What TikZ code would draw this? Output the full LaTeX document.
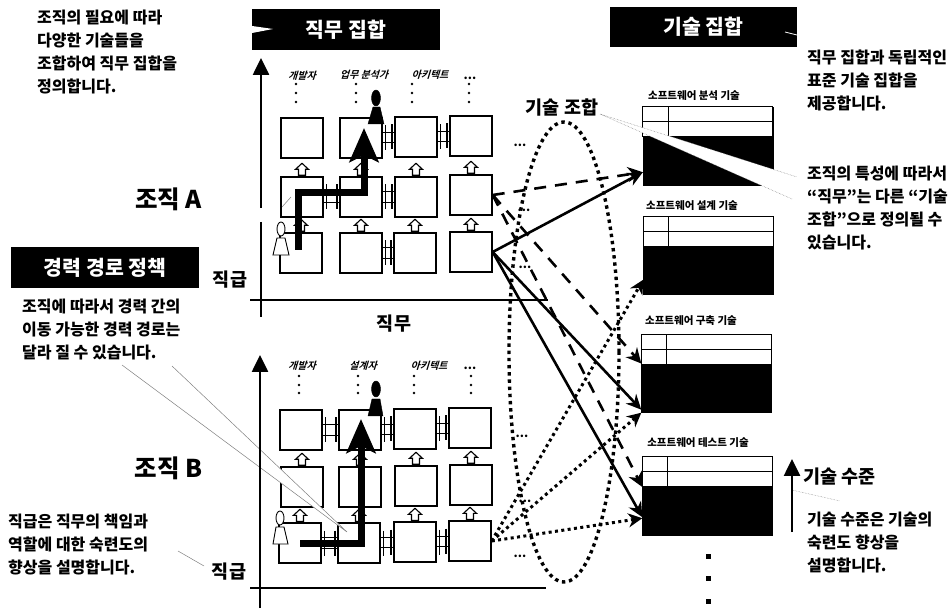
\documentclass[tikz,border=0pt]{standalone}
\usepackage{fontspec}
\setmainfont{Noto Sans CJK KR}
\newfontfamily\rolefont[FakeSlant=0.3]{Noto Sans CJK KR Bold}
\usepackage{tikz}
\usetikzlibrary{arrows.meta,shapes.geometric}
\newcommand{\notefont}{\bfseries\fontsize{16}{23}\selectfont}
\newcommand{\headfont}{\bfseries\fontsize{20.5}{24}\selectfont}
\newcommand{\labelfont}{\bfseries\fontsize{18.5}{22}\selectfont}

\begin{document}
\begin{tikzpicture}[x=1pt,y=-1pt,
  jobbox/.style={draw,fill=white,line width=1.4pt,minimum width=42pt,minimum height=40pt,inner sep=0pt},
  skillbox/.style={draw,fill=black,minimum width=130pt,minimum height=78pt,inner sep=0pt},
  headbox/.style={fill=black,text=white,font=\headfont,inner sep=0pt},
  note/.style={align=left,anchor=west,inner sep=0pt,font=\notefont},
  biglabel/.style={inner sep=0pt,font=\labelfont},
  orglabel/.style={inner sep=0pt,font=\bfseries\fontsize{24.5}{28}\selectfont},
  rolelabel/.style={inner sep=0pt,font=\rolefont\fontsize{10}{12}\selectfont},
  skilltitle/.style={inner sep=0pt,font=\bfseries\fontsize{10.5}{12}\selectfont},
  moredots/.style={anchor=base,inner sep=0pt,font=\bfseries\fontsize{12}{14}\selectfont},
  upmove/.style={draw,fill=white,line width=1.1pt,line join=miter},
  sidemove/.style={draw,fill=white,line width=1.1pt},
  sidebar/.style={line width=1.4pt},
  career/.style={line width=7pt,-{Stealth[length=34pt,width=29pt,inset=7pt]}},
  axis/.style={line width=2.6pt},
  axisarr/.style={line width=2.6pt,-{Triangle[length=17pt,width=16pt]}},
  solidarr/.style={line width=2.6pt,-{Stealth[length=15pt,width=14pt]}},
  dasharr/.style={line width=2.6pt,dash pattern=on 12pt off 9pt,-{Stealth[length=15pt,width=15pt]}},
  dotarr/.style={line width=3pt,dash pattern=on 3pt off 3.4pt,-{Stealth[length=14pt,width=14pt]}},
  callout/.style={draw=black!50,line width=0.5pt}]
\useasboundingbox (0,0) rectangle (951,609);
\foreach \n/\x/\y in {a11/302/138,a12/361/138,a13/416/137,a14/471/136,
  a21/302/197,a22/361/197,a23/416/197,a24/471/195,
  a31/301/253,a32/361/253,a33/415/253,a34/471/252,
  b11/301/430,b12/360/430,b13/415/429,b14/470/428,
  b21/302/487,b22/360/487,b23/416/486,b24/471/485,
  b31/300/543,b32/359/543,b33/415/542,b34/470/541}
  \node[jobbox] (\n) at (\x,\y) {};
\foreach \a in {a21,a22,a23,a24,a31,a32,a33,a34,b21,b22,b23,b24,b31,b32,b33,b34}
  \draw[upmove] (\a.north) ++(-3.5,-1) -- ++(0,-6) -- ++(-3,0) -- ++(6.5,-6) -- ++(6.5,6) -- ++(-3,0) -- ++(0,6) -- cycle;
\foreach \a/\b in {a12/a13,a13/a14,a21/a22,a22/a23,a32/a33,
  b11/b12,b12/b13,b13/b14,b31/b32,b32/b33,b33/b34} {
  \draw[sidemove] (\a.east) ++(0,-5.5) rectangle ([yshift=-5.5pt]\b.west);
  \draw[sidebar] (\a.east) ++(2.5,-12.5) -- ++(0,25);
  \draw[sidebar] (\b.west) ++(-2.5,-12.5) -- ++(0,25);
}
\foreach \n/\x/\y in {s1/708/146,s2/708.5/255.5,s3/706.5/373.5,s4/707.5/496} {
  \node[skillbox] (\n) at (\x,\y) {};
  \draw[fill=white,line width=1.2pt] (\n.north west) rectangle ++(130,15);
  \draw[fill=white,line width=1.2pt] (\n.north west) ++(0,15) rectangle ++(130,15);
  \draw[line width=1.2pt] (\n.north west) ++(25.5,0) -- ++(0,30);
}
\node[skilltitle] (t1) at (694,96) {소프트웨어 분석 기술};
\node[skilltitle] (t2) at (692,206) {소프트웨어 설계 기술};
\node[skilltitle] (t3) at (691,321) {소프트웨어 구축 기술};
\node[skilltitle] (t4) at (698,443) {소프트웨어 테스트 기술};
\fill[white] (600,114) -- (797,177) -- (792,199) -- cycle;
\draw[callout,densely dotted] (792,199) -- (600,114) -- (797,177);
\fill[white] (122,365) -- (172,366) -- (347,532) -- cycle;
\draw[callout] (122,365) -- (347,532) -- (172,366);
\draw[callout] (178,551) -- (204,566);
\draw[callout,densely dotted] (792,490) -- (840,501);
\draw[callout] (282,207) -- (291,197);
\node[headbox,minimum width=188pt,minimum height=41pt] (jobset) at (346,29.5) {직무 집합};
\fill[white] (252,26) -- (273,29) -- (252,33) -- cycle;
\node[headbox,minimum width=187pt,minimum height=40pt] (skillset) at (703.5,27) {기술 집합};
\draw[white,line width=0.8pt] (785,32) -- (797,35);
\node[headbox,minimum width=188pt,minimum height=41pt] (policy) at (105,267.5) {경력 경로 정책};
\draw[axisarr] (261,208) -- (261,58);
\draw[axis] (261,222) -- (261,317);
\draw[axis] (250,300) -- (548,300);
\draw[axisarr] (260,608) -- (260,355);
\draw[axis] (250,588) -- (546,588);
\draw[axisarr] (792,532) -- (792,459);
\foreach \x in {296,356,412,469} \foreach \y in {84,93,102} \fill (\x,\y) circle (1.4);
\foreach \x in {299,358,414,471} \foreach \y in {376,385,393} \fill (\x,\y) circle (1.4);
\node[rolelabel] (r1) at (302,76) {개발자};
\node[rolelabel] (r2) at (364,75) {업무 분석가};
\node[rolelabel] (r3) at (430,75) {아키텍트};
\node[moredots] (r4) at (470,80) {...};
\node[rolelabel] (q1) at (302,366) {개발자};
\node[rolelabel] (q2) at (363,366) {설계자};
\node[rolelabel] (q3) at (429,366) {아키텍트};
\node[moredots] (q4) at (470,370) {...};
\node[moredots] (m1) at (520,147) {...};
\node[moredots] (m2) at (524,212) {...};
\node[moredots] (m3) at (525,269) {...};
\node[moredots] (m4) at (522,438) {...};
\node[moredots] (m5) at (525,503) {...};
\node[moredots] (m6) at (520,557) {...};
\node[ellipse,draw,line width=3.4pt,dash pattern=on 3.4pt off 3.8pt,
  minimum width=110pt,minimum height=460pt,inner sep=0pt] (combo) at (564,352) {};
\draw[dasharr] (a24.east) -- ([yshift=13pt]s1.south west);
\draw[dasharr] (a24.east) -- ([yshift=10pt]s3.west);
\draw[dasharr] (a24.east) -- ([yshift=9pt]s4.west);
\draw[solidarr] (a34.east) -- ([yshift=13pt]s1.south west);
\draw[solidarr] (a34.east) -- ([yshift=3pt]s3.south west);
\draw[solidarr] (a34.east) -- ([yshift=18pt]s4.south west);
\draw[dotarr] (b34.east) -- ([yshift=15pt]s2.south west);
\draw[dotarr] (b34.east) -- (s3.south west);
\draw[dotarr] (b34.east) -- ([yshift=17pt]s4.south west);
\draw[career] ([xshift=-3pt,yshift=3pt]a31.center) |- ([yshift=4pt]a22.center) -| ([xshift=3pt,yshift=10pt]a12.center);
\draw[career] (b31.center) -| ([xshift=1pt,yshift=11pt]b12.center);
\draw[fill=black] (376,98) ellipse [x radius=4.5,y radius=8];
\draw[fill=black] (373,107) -- (380,107) -- (384,124) -- (368,124) -- cycle;
\draw[fill=white,line width=0.9pt] (281,229) ellipse [x radius=4,y radius=7];
\draw[fill=white,line width=0.9pt] (277,238) -- (285,238) -- (289,255) -- (273,255) -- cycle;
\draw[fill=black] (376,389) ellipse [x radius=4.5,y radius=8];
\draw[fill=black] (372,399) -- (380,399) -- (383,416) -- (368,416) -- cycle;
\draw[fill=white,line width=0.9pt] (280,518) ellipse [x radius=4,y radius=7];
\draw[fill=white,line width=0.9pt] (276,527) -- (284,527) -- (288,544) -- (273,544) -- cycle;
\node[note] (n1) at (37,52) {조직의 필요에 따라\\다양한 기술들을\\조합하여 직무 집합을\\정의합니다.};
\node[note] (n2) at (22,330) {조직에 따라서 경력 간의\\이동 가능한 경력 경로는\\달라 질 수 있습니다.};
\node[note] (n3) at (8,545) {직급은 직무의 책임과\\역할에 대한 숙련도의\\향상을 설명합니다.};
\node[note] (n4) at (807,80) {직무 집합과 독립적인\\표준 기술 집합을\\제공합니다.};
\node[note] (n5) at (807,208) {조직의 특성에 따라서\\“직무”는 다른 “기술\\조합”으로 정의될 수\\있습니다.};
\node[note] (n6) at (807,543) {기술 수준은 기술의\\숙련도 향상을\\설명합니다.};
\node[orglabel] (oa) at (168.5,199) {조직 A};
\node[orglabel] (ob) at (168.5,468) {조직 B};
\node[biglabel] (g1) at (230,280) {직급};
\node[biglabel] (g2) at (229,572) {직급};
\node[biglabel] (jb) at (394,324) {직무};
\node[biglabel] (cb) at (562,108) {기술 조합};
\node[biglabel,anchor=west] (lv) at (803,477) {기술 수준};
\foreach \y in {556,578,601} \node[fill=black,minimum size=5pt,inner sep=0pt] (d\y) at (708,\y) {};
\end{tikzpicture}
\end{document}
